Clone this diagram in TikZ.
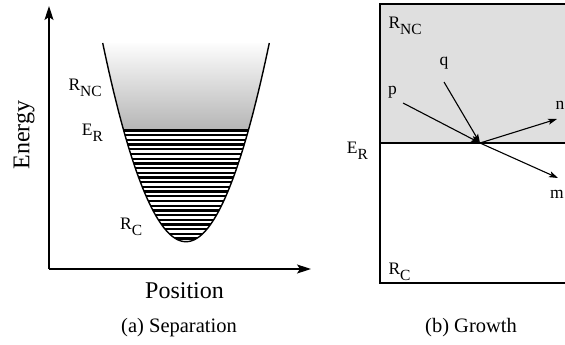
\documentclass[tikz,border=0pt]{standalone}
\usepackage{fontspec}
\setmainfont{Liberation Serif}
\usetikzlibrary{arrows.meta}
\newcommand{\lowsub}[1]{\raisebox{-6pt}{\fontsize{15.5}{17}\selectfont #1}}

\begin{document}
\begin{tikzpicture}[x=1pt,y=-1pt,>={Stealth[length=14pt,width=9pt,inset=3pt]},
  lbl/.style={inner sep=0pt,anchor=base west,font=\fontsize{17.5}{19}\selectfont},
  big/.style={inner sep=0pt,font=\fontsize{24}{28}\selectfont},
  subcap/.style={inner sep=0pt,anchor=base,font=\fontsize{20.5}{24}\selectfont},
  ray/.style={line width=1.1pt,-{Stealth[length=9pt,width=6pt,inset=2pt]}}]
\useasboundingbox (0,0) rectangle (565,345);
% (a) separation
\begin{scope}
\clip plot[domain=-83.3:83.3,samples=80] ({186+\x},{241.7-198.7*(\x/83.3)^2}) -- cycle;
\shade[top color=white,bottom color=gray!58] (95,40) rectangle (280,130);
\foreach \i in {0,...,23}
  \draw[line width=2.3pt] (95,{130.5+4.7*\i}) -- (280,{130.5+4.7*\i});
\end{scope}
\draw[line width=1.4pt] plot[domain=-83.3:83.3,samples=80] ({186+\x},{241.7-198.7*(\x/83.3)^2});
\coordinate (origin) at (49,269);
\coordinate (ytip) at (49,6);
\coordinate (xtip) at (311,269);
\draw[line width=1.3pt,->] (origin) -- (ytip);
\draw[line width=1.3pt,->] (origin) -- (xtip);
\node[big,rotate=90] (energy) at (24,135) {Energy};
\node[big,anchor=base] (position) at (184.5,298) {Position};
\node[lbl] (rnc) at (68.3,90.7) {R\lowsub{NC}};
\node[lbl] (er) at (81.7,135) {E\lowsub{R}};
\node[lbl] (rc) at (120,229.5) {R\lowsub{C}};
\node[subcap] (capa) at (179,332) {(a) Separation};
% (b) growth
\fill[gray!25] (380,4) rectangle (566,143);
\draw[line width=1.1pt] (566,4) -- (380,4) -- (380,283) -- (566,283);
\draw[line width=1.1pt] (380,143) -- (566,143);
\node[lbl] (rnc2) at (388.3,28.3) {R\lowsub{NC}};
\node[lbl] (er2) at (346.7,153.3) {E\lowsub{R}};
\node[lbl] (rc2) at (388.3,274) {R\lowsub{C}};
\node[lbl] (p) at (388,95) {p};
\node[lbl] (q) at (439.5,66) {q};
\node[lbl] (n) at (555.5,109.5) {n};
\node[lbl] (m) at (550,198) {m};
\coordinate (hit) at (480,143);
\coordinate (pin) at (403,103);
\coordinate (qin) at (444,82);
\coordinate (nout) at (557,119);
\coordinate (mout) at (558,178);
\draw[ray] (pin) -- (hit);
\draw[ray] (qin) -- (hit);
\draw[ray] (hit) -- (nout);
\draw[ray] (hit) -- (mout);
\node[subcap] (capb) at (471,332) {(b) Growth};
\end{tikzpicture}
\end{document}
